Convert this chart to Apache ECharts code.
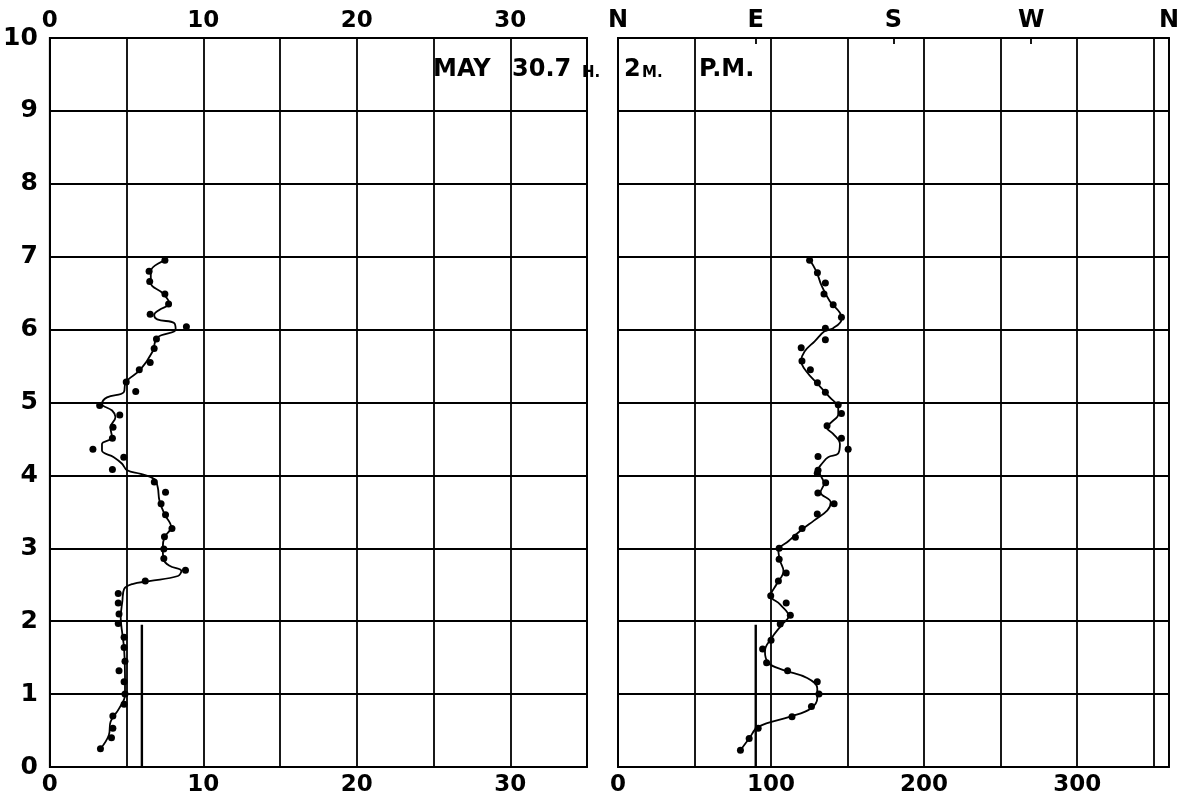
<!DOCTYPE html>
<html>
<head>
<meta charset="utf-8">
<script src="https://cdn.jsdelivr.net/npm/echarts@6/dist/echarts.min.js"></script>
<style>
html,body{margin:0;padding:0;background:#fff;}
#chart{width:1182px;height:801px;}
</style>
</head>
<body>
<div id="chart"></div>
<script>
// ---- Data ----
// Wind speed profile: observed points [speed, height]
const speedPoints = [
  [7.5,6.95],[6.47,6.80],[6.51,6.66],[7.5,6.49],[7.74,6.35],[6.54,6.21],[8.9,6.04],
  [6.95,5.87],[6.8,5.74],[6.54,5.55],[5.83,5.45],[4.98,5.28],[5.6,5.15],[3.25,4.96],
  [4.56,4.83],[4.12,4.66],[4.08,4.51],[2.81,4.36],[4.82,4.25],[4.08,4.08],
  [6.81,3.91],[7.54,3.77],[7.25,3.61],[7.54,3.46],[7.96,3.27],[7.47,3.16],[7.43,2.99],
  [7.43,2.86],[8.84,2.70],[6.22,2.55],[4.46,2.38],[4.46,2.25],[4.51,2.10],[4.46,1.97],
  [4.84,1.78],[4.84,1.64],[4.9,1.45],[4.51,1.32],[4.84,1.17],[4.9,1.0],[4.84,0.86],
  [4.11,0.70],[4.11,0.53],[4.02,0.40],[3.3,0.25]
];
// Wind speed profile: smoothed curve [speed, height]
const speedCurve = [
  [7.5,6.95],[6.58,6.80],[6.58,6.64],[7.35,6.50],[7.79,6.36],[7.13,6.27],[6.8,6.20],
  [7.0,6.14],[8.1,6.09],[8.2,6.0],[7.0,5.89],[6.7,5.70],[5.9,5.45],[4.93,5.27],
  [4.82,5.14],[3.73,5.07],[3.4,4.98],[4.06,4.89],[4.28,4.80],[3.95,4.66],[4.06,4.52],
  [3.4,4.43],[3.4,4.34],[4.17,4.25],[4.71,4.16],[5.04,4.07],[5.92,4.02],[6.8,3.95],
  [7.03,3.84],[7.14,3.66],[7.47,3.47],[7.91,3.29],[7.47,3.15],[7.36,3.01],[7.41,2.85],
  [7.8,2.76],[8.57,2.69],[8.35,2.62],[6.48,2.55],[5.38,2.51],[4.84,2.44],[4.73,2.28],
  [4.62,2.05],[4.73,1.82],[4.84,1.63],[4.9,1.26],[4.9,0.99],[4.51,0.80],[3.96,0.62],
  [3.85,0.44],[3.3,0.25]
];
// Wind direction profile: observed points [degrees, height]
const dirPoints = [
  [125.2,6.95],[130.3,6.78],[135.5,6.64],[134.6,6.49],[140.6,6.34],[146,6.17],[135.5,6.02],
  [135.5,5.86],[119.7,5.75],[120.2,5.57],[125.7,5.45],[130.3,5.27],[135.5,5.14],[143.9,4.97],
  [146,4.85],[136.6,4.68],[146,4.51],[150.4,4.36],[130.7,4.26],[130.7,4.07],
  [130.2,4.03],[135.7,3.9],[130.6,3.76],[141.2,3.61],[130.2,3.47],[120.3,3.27],[115.9,3.15],
  [105.3,3.0],[105.3,2.85],[109.9,2.66],[104.8,2.55],[99.8,2.35],[109.9,2.25],[112.6,2.08],
  [106,1.96],[100,1.74],[94.5,1.62],[97.1,1.43],[110.8,1.32],[130.2,1.17],[131.3,1.0],
  [126.4,0.83],[113.7,0.69],[91.6,0.53],[85.7,0.39],[80,0.23]
];
// Wind direction profile: smoothed curve [degrees, height]
const dirCurve = [
  [124.6,6.98],[129.6,6.80],[132.9,6.61],[138.4,6.39],[145,6.23],[146,6.14],[140.6,6.02],
  [135.1,5.98],[128.5,5.84],[121.9,5.70],[119.7,5.57],[123,5.43],[130.7,5.25],[138.4,5.07],
  [143.9,4.93],[143.9,4.84],[139.5,4.73],[136.2,4.66],[140.6,4.57],[145,4.43],[143.9,4.30],
  [137.3,4.25],[134,4.18],[130.7,4.07],[132.9,3.98],[134.6,3.89],[132.4,3.77],[139,3.63],
  [136.8,3.52],[128,3.38],[119.2,3.24],[111.5,3.10],[104.8,2.97],[105.9,2.83],[108.1,2.69],
  [103.7,2.51],[99.8,2.35],[105.9,2.23],[111.5,2.07],[107,1.95],[100.4,1.77],[96,1.59],
  [98.2,1.43],[108.1,1.33],[123.6,1.22],[130.2,1.08],[130.2,0.94],[125.8,0.80],[112.6,0.69],
  [91.6,0.55],[85.7,0.39],[80,0.23]
];
// Reference (mean) bars
const meanSpeedBar = [[6.0,0],[6.0,1.95]];
const meanDirBar = [[90,0],[90,1.95]];
// Tick labels
const speedTickLabels = [0,10,20,30];
const dirTickLabels = [0,100,200,300];
const compassLabels = ['N','E','S','W','N'];
const heightTickLabels = [0,1,2,3,4,5,6,7,8,9,10];

// ---- Chart ----
const FONT = 'DejaVu Sans';
const chart = echarts.init(document.getElementById('chart'), null, {renderer:'canvas'});
const black = '#000';
const gridLine = {show:true, lineStyle:{color:black, width:1.8}};
const axLine = {show:true, lineStyle:{color:black, width:1.8}};
const lblBase = {color:black, fontFamily:FONT, fontSize:23, fontWeight:'bold'};

chart.setOption({
  backgroundColor:'#fff',
  animation:false,
  grid:[
    {left:49, top:38, width:538, height:729, show:true, borderColor:black, borderWidth:1.8},
    {left:618, top:38, width:552, height:729, show:true, borderColor:black, borderWidth:1.8}
  ],
  xAxis:[
    {gridIndex:0, type:'value', min:0, max:35, interval:5, position:'bottom',
     axisLine:axLine, axisTick:{show:false}, splitLine:gridLine,
     axisLabel:Object.assign({}, lblBase, {margin:7,
       formatter:v => speedTickLabels.indexOf(v) >= 0 ? String(v) : ''})},
    {gridIndex:0, type:'value', min:0, max:35, interval:5, position:'top',
     axisLine:axLine, axisTick:{show:false}, splitLine:{show:false},
     axisLabel:Object.assign({}, lblBase, {margin:5,
       formatter:v => speedTickLabels.indexOf(v) >= 0 ? String(v) : ''})},
    {gridIndex:1, type:'value', min:0, max:360, interval:50, position:'bottom',
     axisLine:axLine, axisTick:{show:false}, splitLine:gridLine,
     axisLabel:Object.assign({}, lblBase, {margin:7,
       formatter:v => dirTickLabels.indexOf(v) >= 0 ? String(v) : ''})},
    {gridIndex:1, type:'value', min:0, max:360, interval:90, position:'top',
     axisLine:axLine, axisTick:{show:true, inside:true, length:6, lineStyle:{color:black, width:1.8}},
     splitLine:{show:false},
     axisLabel:Object.assign({}, lblBase, {margin:5, fontSize:24,
       formatter:v => compassLabels[Math.round(v/90)] || ''})}
  ],
  yAxis:[
    {gridIndex:0, type:'value', min:0, max:10, interval:1,
     axisLine:axLine, axisTick:{show:false}, splitLine:gridLine,
     axisLabel:Object.assign({}, lblBase, {margin:12, fontSize:25,
       formatter:v => heightTickLabels.indexOf(v) >= 0 ? String(v) : ''})},
    {gridIndex:1, type:'value', min:0, max:10, interval:1,
     axisLine:axLine, axisTick:{show:false}, splitLine:gridLine,
     axisLabel:{show:false}}
  ],
  graphic:[
    {type:'text', left:433, top:58, style:{text:'MAY', font:'bold 24px "DejaVu Sans"', fill:black}},
    {type:'text', left:512, top:58, style:{text:'30.7', font:'bold 24px "DejaVu Sans"', fill:black}},
    {type:'text', left:582, top:66, style:{text:'H.', font:'bold 15px "DejaVu Sans"', fill:black}},
    {type:'text', left:624, top:58, style:{text:'2', font:'bold 24px "DejaVu Sans"', fill:black}},
    {type:'text', left:642, top:66, style:{text:'M.', font:'bold 15px "DejaVu Sans"', fill:black}},
    {type:'text', left:699, top:58, style:{text:'P.M.', font:'bold 24px "DejaVu Sans"', fill:black}}
  ],
  series:[
    {type:'line', xAxisIndex:0, yAxisIndex:0, data:speedCurve, smooth:0.4, showSymbol:false,
     lineStyle:{color:black, width:1.8}, silent:true},
    {type:'scatter', xAxisIndex:0, yAxisIndex:0, data:speedPoints, symbolSize:7,
     itemStyle:{color:black, opacity:1}},
    {type:'line', xAxisIndex:0, yAxisIndex:0, data:meanSpeedBar, showSymbol:false,
     lineStyle:{color:black, width:2.4}},
    {type:'line', xAxisIndex:2, yAxisIndex:1, data:dirCurve, smooth:0.4, showSymbol:false,
     lineStyle:{color:black, width:1.8}, silent:true},
    {type:'scatter', xAxisIndex:2, yAxisIndex:1, data:dirPoints, symbolSize:7,
     itemStyle:{color:black, opacity:1}},
    {type:'line', xAxisIndex:2, yAxisIndex:1, data:meanDirBar, showSymbol:false,
     lineStyle:{color:black, width:2.4}}
  ]
});
</script>
</body>
</html>
